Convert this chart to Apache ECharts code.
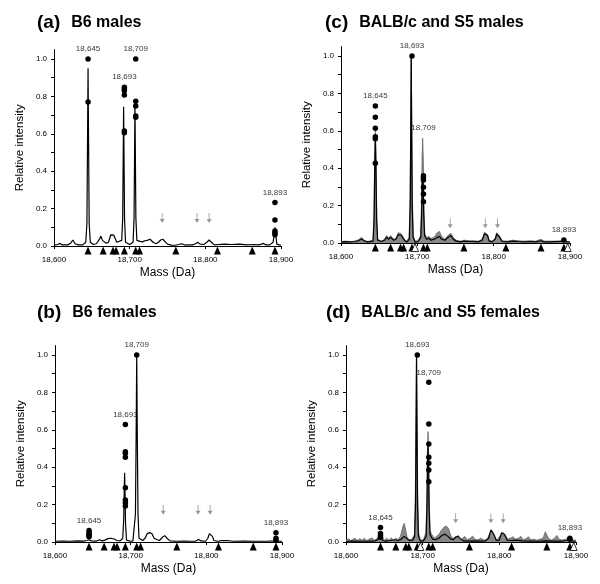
<!DOCTYPE html>
<html><head><meta charset="utf-8">
<script src="https://cdn.jsdelivr.net/npm/echarts@6/dist/echarts.min.js"></script>
<style>html,body{margin:0;padding:0;background:#fff}#chart{width:600px;height:584px}</style>
</head><body><div id="chart"></div>
<script>
// ---------- data ----------
const panelLetters = ['(a)', '(b)', '(c)', '(d)'];
const panelTitles = ['B6 males', 'B6 females', 'BALB/c and S5 males', 'BALB/c and S5 females'];
const xTickValues = [18600, 18700, 18800, 18900];
const yTickValues = [0, 0.2, 0.4, 0.6, 0.8, 1.0];
const yMinorTickValues = [0, 0.1, 0.2, 0.3, 0.4, 0.5, 0.6, 0.7, 0.8, 0.9, 1.0];
const peakNames = [18645, 18693, 18709, 18893];
const peakMasses = [18645, 18693, 18708, 18892];

const traceA = [[18600,0.005],[18605,0.008],[18608,0.014],[18611,0.006],[18618,0.006],[18622,0.015],[18625,0.032],[18628,0.012],[18632,0.006],[18638,0.006],[18642,0.02],[18643.5,0.12],[18644.3,0.55],[18645,0.95],[18645.7,0.55],[18646.5,0.12],[18648,0.02],[18652,0.008],[18656,0.012],[18660,0.035],[18662,0.053],[18664,0.03],[18666,0.025],[18669,0.015],[18672,0.02],[18675,0.06],[18677,0.064],[18679,0.058],[18681,0.05],[18683,0.02],[18685,0.01],[18689.5,0.03],[18690.8,0.15],[18691.4,0.45],[18692,0.745],[18692.6,0.45],[18693.2,0.15],[18694.5,0.02],[18700,0.008],[18704.5,0.02],[18705.8,0.15],[18706.4,0.45],[18707,0.76],[18707.6,0.45],[18708.2,0.15],[18709.5,0.03],[18711,0.03],[18714,0.025],[18717,0.022],[18720,0.028],[18723,0.03],[18727,0.036],[18731,0.02],[18735,0.012],[18738,0.02],[18741,0.032],[18744,0.036],[18747,0.022],[18750,0.01],[18755,0.005],[18760,0.004],[18765,0.008],[18769,0.012],[18773,0.005],[18778,0.006],[18783,0.006],[18787,0.012],[18790,0.02],[18793,0.01],[18798,0.008],[18802,0.02],[18805,0.032],[18808,0.02],[18812,0.006],[18818,0.008],[18825,0.01],[18835,0.008],[18845,0.01],[18855,0.006],[18865,0.008],[18870,0.006],[18874,0.01],[18877,0.014],[18880,0.006],[18885,0.006],[18889.5,0.02],[18891,0.06],[18892,0.1],[18893,0.06],[18894.5,0.01],[18898,0.006],[18900,0.005]];

const traceB = [[18600,0.004],[18610,0.005],[18620,0.004],[18630,0.006],[18638,0.005],[18642,0.008],[18645,0.012],[18648,0.006],[18655,0.005],[18659,0.012],[18662,0.006],[18666,0.01],[18670,0.018],[18674,0.02],[18678,0.016],[18682,0.008],[18686,0.006],[18689.5,0.02],[18690.8,0.12],[18691.4,0.25],[18692,0.37],[18692.6,0.25],[18693.2,0.1],[18694.5,0.01],[18700,0.004],[18703,0.006],[18705,0.01],[18706.3,0.15],[18707.2,0.55],[18708,1.0],[18708.8,0.55],[18709.7,0.15],[18711,0.02],[18716,0.008],[18719,0.02],[18722,0.045],[18725,0.05],[18728,0.045],[18731,0.02],[18735,0.012],[18738,0.008],[18742,0.025],[18745,0.034],[18748,0.02],[18752,0.006],[18760,0.004],[18770,0.005],[18780,0.004],[18786,0.005],[18790,0.014],[18793,0.006],[18799,0.004],[18802,0.02],[18804,0.045],[18806,0.052],[18808,0.03],[18810,0.008],[18815,0.004],[18820,0.007],[18828,0.008],[18835,0.004],[18850,0.005],[18865,0.004],[18880,0.004],[18890,0.006],[18893,0.01],[18896,0.005],[18900,0.004]];

const traceC = [[18600,0.005],[18605,0.007],[18612,0.006],[18618,0.008],[18623,0.012],[18627,0.022],[18630,0.012],[18635,0.006],[18642,0.01],[18643.3,0.12],[18644.2,0.4],[18645,0.58],[18645.8,0.4],[18646.7,0.12],[18648,0.015],[18653,0.008],[18657,0.015],[18660,0.032],[18662,0.02],[18665,0.03],[18667,0.035],[18669,0.015],[18672,0.02],[18675,0.045],[18677,0.05],[18679,0.04],[18681,0.035],[18683,0.015],[18686,0.005],[18689.5,0.02],[18690.7,0.2],[18691.4,0.6],[18692,1.0],[18692.6,0.6],[18693.3,0.2],[18694.5,0.03],[18697,0.005],[18701,0.008],[18704.5,0.03],[18705.6,0.15],[18706.3,0.3],[18707,0.36],[18707.7,0.3],[18708.4,0.15],[18709.5,0.04],[18712,0.02],[18715,0.025],[18718,0.015],[18722,0.02],[18726,0.03],[18729,0.035],[18732,0.02],[18736,0.015],[18740,0.03],[18744,0.04],[18747,0.02],[18751,0.01],[18756,0.006],[18762,0.01],[18768,0.008],[18774,0.008],[18780,0.006],[18785,0.015],[18788,0.05],[18790,0.058],[18792,0.04],[18794,0.01],[18798,0.006],[18802,0.02],[18804,0.048],[18806,0.05],[18808,0.03],[18811,0.008],[18818,0.006],[18825,0.01],[18832,0.008],[18840,0.006],[18848,0.008],[18855,0.006],[18862,0.012],[18866,0.006],[18872,0.006],[18880,0.007],[18888,0.008],[18892,0.015],[18896,0.006],[18900,0.005]];

const greyC = [[18600,0.008],[18605,0.01],[18612,0.008],[18618,0.01],[18623,0.018],[18627,0.03],[18630,0.015],[18635,0.008],[18642,0.015],[18643.2,0.15],[18644.1,0.45],[18645,0.6],[18645.9,0.45],[18646.8,0.15],[18648,0.02],[18653,0.01],[18657,0.02],[18660,0.04],[18662,0.025],[18665,0.04],[18667,0.045],[18669,0.02],[18672,0.025],[18675,0.055],[18677,0.058],[18679,0.05],[18681,0.045],[18683,0.02],[18686,0.01],[18689.3,0.03],[18690.5,0.25],[18691.3,0.65],[18692,1.0],[18692.7,0.65],[18693.5,0.25],[18694.7,0.04],[18697,0.01],[18701,0.012],[18704.3,0.04],[18705.4,0.2],[18706.2,0.45],[18707,0.56],[18707.8,0.45],[18708.6,0.2],[18709.7,0.05],[18712,0.03],[18715,0.035],[18718,0.025],[18722,0.03],[18726,0.055],[18729,0.062],[18732,0.035],[18736,0.02],[18740,0.04],[18744,0.052],[18747,0.03],[18751,0.015],[18756,0.01],[18762,0.015],[18768,0.012],[18774,0.012],[18780,0.01],[18785,0.02],[18788,0.058],[18790,0.064],[18792,0.045],[18794,0.015],[18798,0.01],[18802,0.025],[18804,0.055],[18806,0.06],[18808,0.035],[18811,0.012],[18818,0.01],[18825,0.015],[18832,0.012],[18840,0.01],[18848,0.012],[18855,0.01],[18862,0.02],[18866,0.01],[18872,0.01],[18880,0.01],[18888,0.012],[18892,0.018],[18896,0.008],[18900,0.008]];

const traceD = [[18600,0.004],[18610,0.005],[18620,0.004],[18630,0.005],[18638,0.006],[18642,0.015],[18644,0.035],[18645,0.04],[18646,0.03],[18648,0.008],[18652,0.005],[18658,0.008],[18663,0.012],[18668,0.008],[18672,0.015],[18676,0.03],[18679,0.02],[18683,0.008],[18687,0.01],[18689.5,0.03],[18690.7,0.2],[18691.4,0.6],[18692,1.0],[18692.6,0.6],[18693.3,0.2],[18694.5,0.03],[18697,0.005],[18701,0.006],[18704.5,0.03],[18705.6,0.18],[18706.3,0.4],[18707,0.52],[18707.7,0.4],[18708.4,0.18],[18709.5,0.04],[18713,0.015],[18717,0.012],[18721,0.02],[18725,0.035],[18729,0.042],[18733,0.03],[18737,0.015],[18740,0.012],[18743,0.025],[18746,0.032],[18749,0.018],[18753,0.006],[18760,0.005],[18768,0.006],[18775,0.005],[18782,0.006],[18786,0.02],[18789,0.065],[18791,0.073],[18793,0.04],[18796,0.008],[18800,0.01],[18803,0.05],[18805,0.059],[18807,0.04],[18810,0.01],[18815,0.008],[18822,0.01],[18830,0.006],[18840,0.005],[18850,0.004],[18860,0.006],[18870,0.005],[18880,0.005],[18888,0.008],[18892,0.012],[18896,0.005],[18900,0.004]];

const greyD = [[18600,0.01],[18603,0.018],[18606,0.008],[18609,0.015],[18612,0.02],[18615,0.008],[18618,0.018],[18621,0.01],[18624,0.02],[18627,0.008],[18630,0.015],[18634,0.022],[18637,0.008],[18641,0.02],[18643,0.04],[18645,0.05],[18647,0.03],[18650,0.008],[18653,0.02],[18656,0.01],[18659,0.022],[18662,0.01],[18665,0.02],[18668,0.012],[18671,0.03],[18674,0.08],[18676,0.1],[18678,0.06],[18680,0.02],[18683,0.012],[18686,0.015],[18689.3,0.04],[18690.5,0.27],[18691.3,0.68],[18692,1.0],[18692.7,0.66],[18693.5,0.26],[18694.7,0.05],[18697,0.01],[18701,0.012],[18704.3,0.05],[18705.4,0.22],[18706.2,0.47],[18707,0.59],[18707.8,0.47],[18708.6,0.22],[18709.7,0.06],[18712,0.04],[18715,0.02],[18718,0.03],[18721,0.04],[18724,0.06],[18728,0.08],[18731,0.085],[18734,0.07],[18737,0.03],[18740,0.02],[18743,0.03],[18746,0.025],[18749,0.012],[18752,0.02],[18755,0.03],[18758,0.012],[18762,0.02],[18765,0.032],[18768,0.015],[18772,0.012],[18776,0.02],[18780,0.01],[18784,0.015],[18787,0.04],[18790,0.062],[18793,0.035],[18796,0.012],[18799,0.02],[18802,0.04],[18805,0.05],[18808,0.035],[18811,0.015],[18815,0.022],[18818,0.028],[18821,0.015],[18825,0.02],[18828,0.03],[18831,0.012],[18835,0.018],[18838,0.028],[18841,0.012],[18845,0.015],[18849,0.01],[18853,0.015],[18857,0.02],[18860,0.055],[18862,0.06],[18864,0.02],[18868,0.01],[18872,0.02],[18875,0.035],[18878,0.015],[18882,0.01],[18886,0.015],[18890,0.02],[18893,0.025],[18896,0.01],[18900,0.01]];

// individual relative intensities at each labelled peak (order of peakMasses)
const dotsA = [[1.0,0.77],[0.849,0.838,0.83,0.807,0.615,0.606],[1.0,0.774,0.749,0.695,0.688],[0.232,0.139,0.08,0.07,0.06]];
const dotsB = [[0.062,0.05,0.042,0.035,0.028],[0.629,0.483,0.474,0.453,0.29,0.225,0.21,0.193],[1.0],[0.05,0.02,0.008]];
const dotsC = [[0.733,0.672,0.613,0.568,0.557,0.426],[1.0],[0.36,0.35,0.337,0.298,0.262,0.221],[0.016]];
const dotsD = [[0.078,0.045,0.035,0.025],[1.0],[0.854,0.631,0.524,0.453,0.421,0.385,0.322],[0.02,0.015]];

const filledTriangles = [18645, 18665, 18678, 18682, 18693, 18708, 18713, 18761, 18816, 18862, 18892];
const openTrianglesCD = [18697, 18897];
const arrowMasses = [18743, 18789, 18805];
const arrowLevels = [0.15, 0.172, 0.105, 0.127];

const traces = [traceA, traceB, traceC, traceD];
const greys = [null, null, greyC, greyD];
const dots = [dotsA, dotsB, dotsC, dotsD];
const openTri = [[], [], openTrianglesCD, openTrianglesCD];

// ---------- layout ----------
const grids = [
  {left: 54, top: 49.65, width: 227, height: 196.35},
  {left: 55, top: 345.65, width: 227, height: 196.35},
  {left: 341, top: 46.65, width: 229, height: 196.35},
  {left: 346, top: 345.65, width: 230, height: 196.35}
];
const titlePos = [[32, 8], [32, 298], [320, 8], [321, 298]];
const FONT = 'Liberation Sans, Arial, Helvetica, sans-serif';
const fmtMass = v => String(v).replace(/(\d)(?=(\d{3})+$)/g, '$1,');

const option = {
  animation: false,
  backgroundColor: '#fff',
  textStyle: {fontFamily: FONT},
  title: panelLetters.map((l, i) => ({
    text: '{b|' + l + '}{n|' + panelTitles[i] + '}',
    left: titlePos[i][0], top: titlePos[i][1],
    textStyle: {rich: {
      b: {fontFamily: FONT, fontWeight: 'bold', fontSize: 19, color: '#000'},
      n: {fontFamily: FONT, fontSize: 16, color: '#000', padding: [0, 0, 0, 11]}
    }}
  })),
  grid: grids,
  xAxis: grids.map((g, i) => ({
    type: 'value', gridIndex: i, min: 18600, max: 18900, interval: 100,
    name: 'Mass (Da)', nameLocation: 'middle', nameGap: 21,
    nameTextStyle: {fontFamily: FONT, fontSize: 12, color: '#000'},
    axisLine: {onZero: false, lineStyle: {color: '#000', width: 1}},
    axisTick: {show: true, length: 3, inside: false, lineStyle: {color: '#000'}},
    axisLabel: {fontFamily: FONT, fontSize: 8, color: '#000', margin: 10, formatter: fmtMass,
      customValues: xTickValues},
    splitLine: {show: false}
  })),
  yAxis: grids.map((g, i) => ({
    type: 'value', gridIndex: i, min: 0, max: 1.05,
    name: 'Relative intensity', nameLocation: 'middle', nameGap: 28,
    nameTextStyle: {fontFamily: FONT, fontSize: 11.5, color: '#000'},
    axisLine: {show: true, lineStyle: {color: '#000', width: 1}},
    axisTick: {show: true, length: 3, customValues: yMinorTickValues, lineStyle: {color: '#000'}},
    axisLabel: {fontFamily: FONT, fontSize: 8, color: '#000', margin: 7,
      customValues: yTickValues, formatter: v => v.toFixed(1)},
    splitLine: {show: false}
  })),
  series: []
};

for (let i = 0; i < 4; i++) {
  if (greys[i]) {
    option.series.push({
      type: 'line', xAxisIndex: i, yAxisIndex: i, data: greys[i], showSymbol: false,
      lineStyle: {color: '#666', width: 0.8}, areaStyle: {color: '#878787', opacity: 1}, z: 2
    });
  }
  option.series.push({
    type: 'line', xAxisIndex: i, yAxisIndex: i, data: traces[i], showSymbol: false,
    lineStyle: {color: '#000', width: 1.2}, z: 3
  });
  const dotData = [];
  dots[i].forEach((vals, k) => vals.forEach(v => dotData.push([peakMasses[k], v])));
  option.series.push({
    type: 'scatter', xAxisIndex: i, yAxisIndex: i, data: dotData, symbol: 'circle', symbolSize: 5.5,
    itemStyle: {color: '#000', opacity: 1}, z: 5, clip: false
  });
  // peak labels
  const labData = peakMasses.map((m, k) => {
    let top = Math.max(...dots[i][k]);
    if (greys[i]) greys[i].forEach(p => { if (Math.abs(p[0] - m) <= 1.5) top = Math.max(top, p[1]); });
    return {value: [m, top], name: fmtMass(peakNames[k])};
  });
  option.series.push({
    type: 'scatter', xAxisIndex: i, yAxisIndex: i, data: labData, symbolSize: 0, clip: false, z: 6,
    label: {show: true, position: 'top', distance: 6, formatter: p => p.name,
      fontFamily: FONT, fontSize: 8, color: '#000'}
  });
  // arrows
  option.series.push({
    type: 'scatter', xAxisIndex: i, yAxisIndex: i,
    data: arrowMasses.map(m => [m, arrowLevels[i]]),
    symbol: 'path://M4.5,0 L5.5,0 L5.5,6 L8,6 L5,10 L2,6 L4.5,6 Z', symbolSize: [5, 10],
    itemStyle: {color: '#999', opacity: 1}, z: 4
  });
  // triangles below axis
  option.series.push({
    type: 'scatter', xAxisIndex: i, yAxisIndex: i, data: filledTriangles.map(m => [m, 0]),
    symbol: 'triangle', symbolSize: [7, 8], symbolOffset: [0, 4.5], clip: false,
    itemStyle: {color: '#000', opacity: 1}, z: 7
  });
  if (openTri[i].length) {
    option.series.push({
      type: 'scatter', xAxisIndex: i, yAxisIndex: i, data: openTri[i].map(m => [m, 0]),
      symbol: 'triangle', symbolSize: [7, 8], symbolOffset: [0, 4.5], clip: false,
      itemStyle: {color: '#fff', borderColor: '#000', borderWidth: 0.8, opacity: 1}, z: 7
    });
  }
}

const chart = echarts.init(document.getElementById('chart'), null, {renderer: 'canvas'});
chart.setOption(option);
</script>
</body></html>
